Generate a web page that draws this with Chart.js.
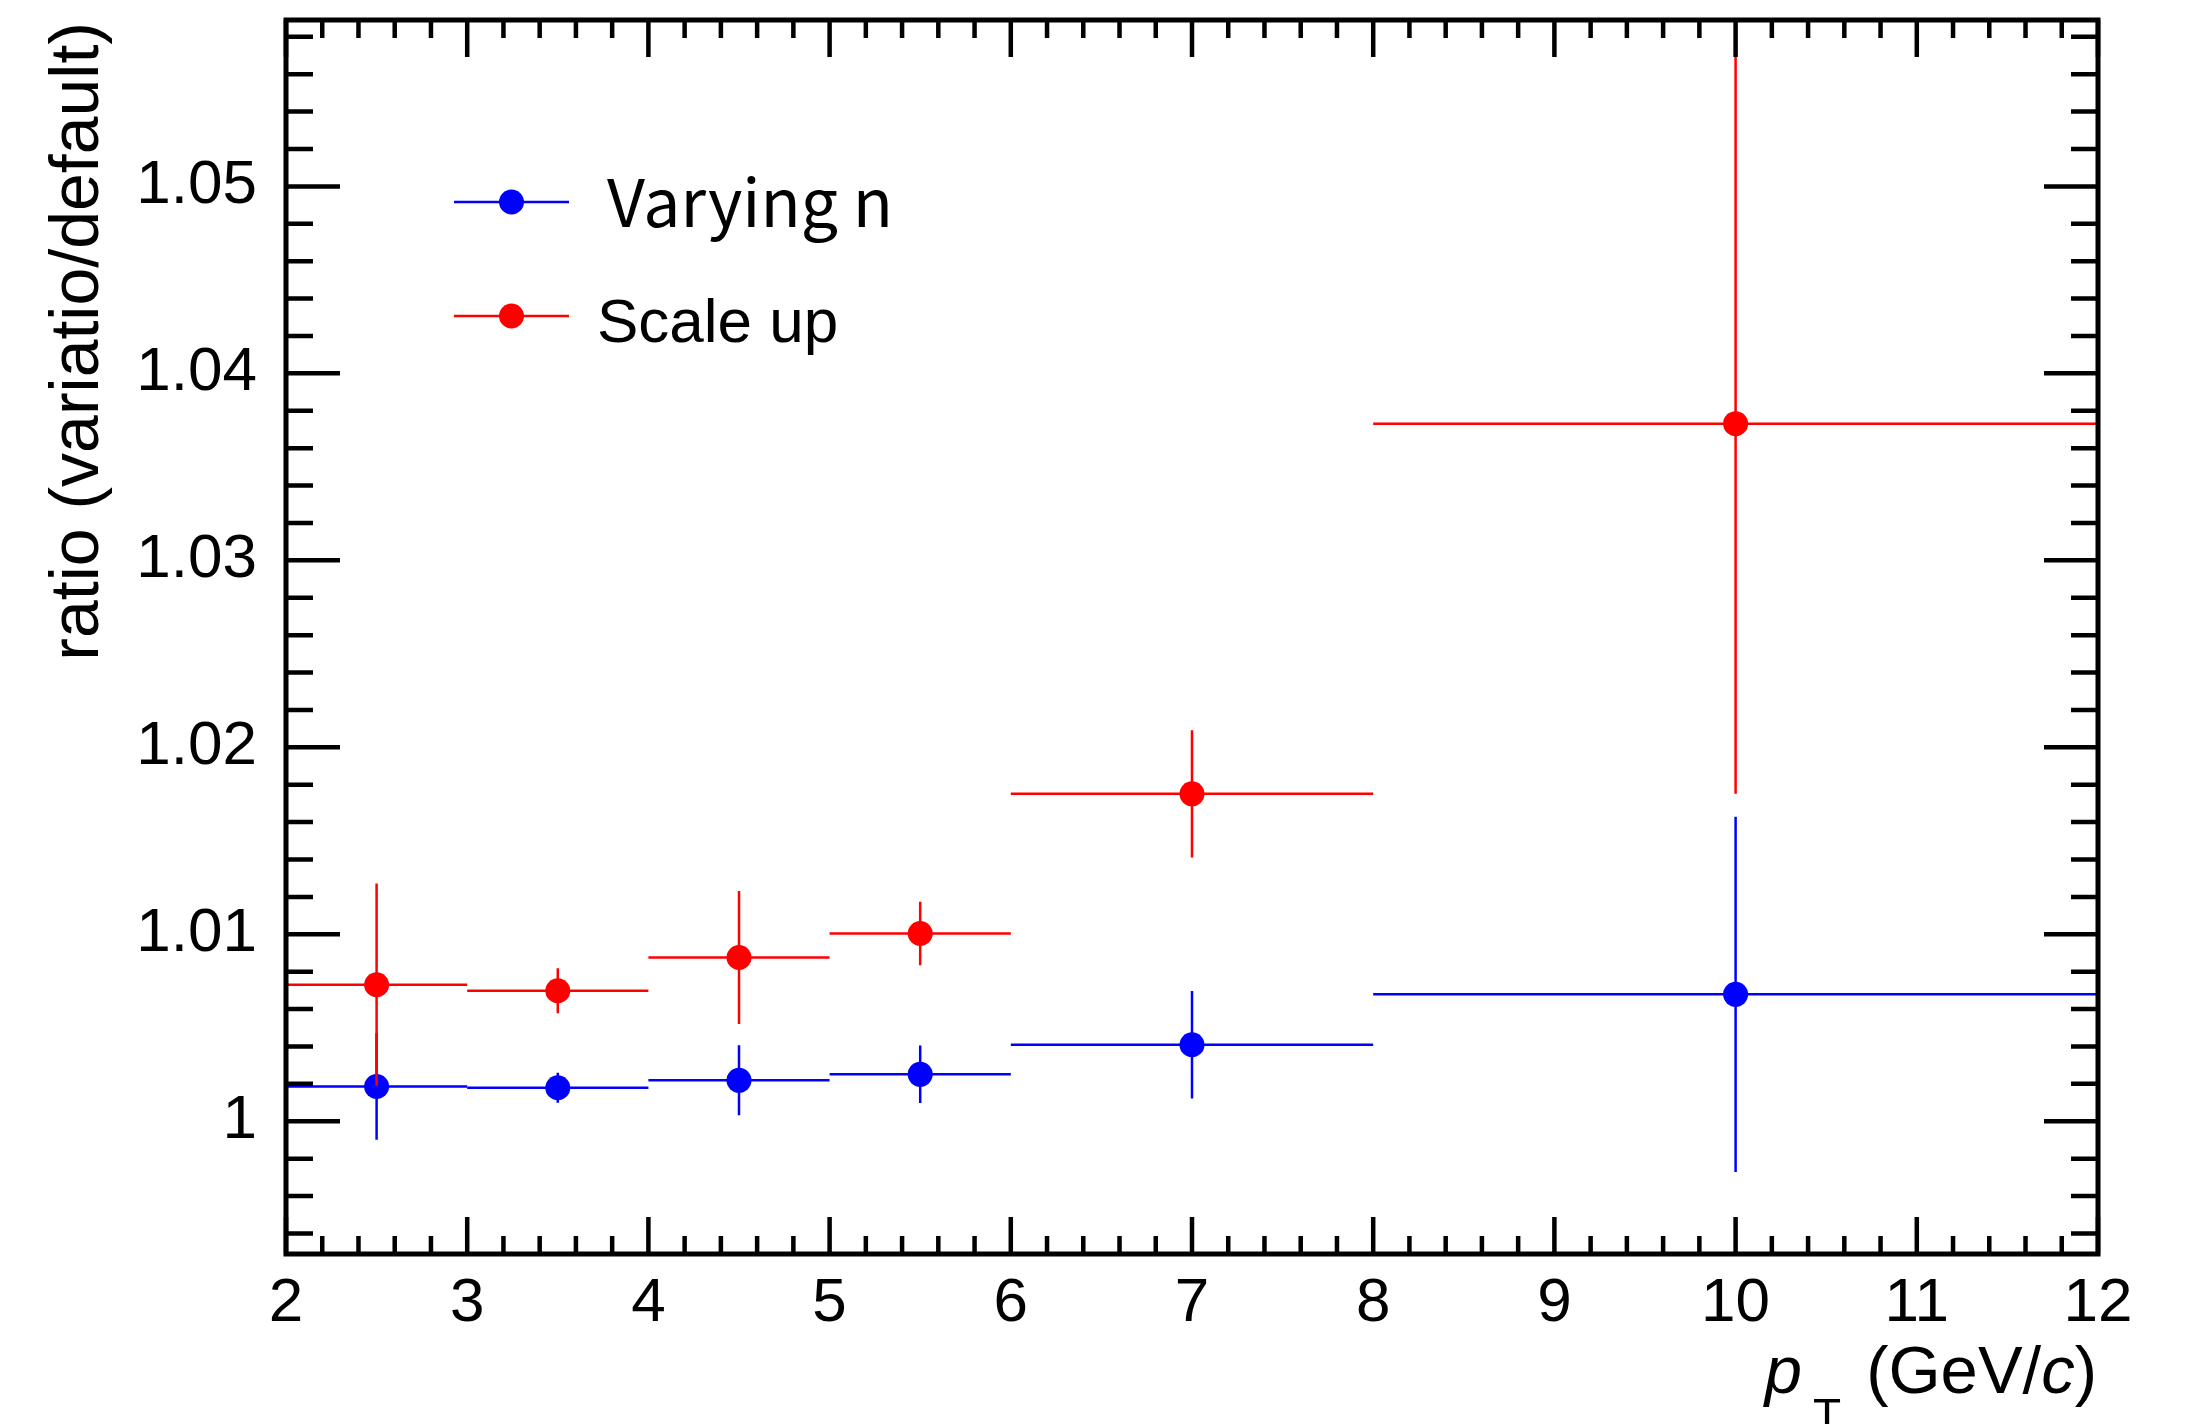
<!DOCTYPE html>
<html>
<head>
<meta charset="utf-8">
<script src="https://cdn.jsdelivr.net/npm/chart.js@4.4.1/dist/chart.umd.min.js"></script>
<style>
  html, body { margin: 0; padding: 0; background: #fff; }
  canvas { display: block; }
</style>
</head>
<body>
<canvas id="ratioChart" width="2192" height="1424"></canvas>
<script>
// ---- data ----
const binLow    = [2, 3, 4, 5, 6, 8];
const binHigh   = [3, 4, 5, 6, 8, 12];
const binCenter = [2.5, 3.5, 4.5, 5.5, 7, 10];

const varyingN    = [1.00186, 1.00179, 1.00219, 1.00251, 1.00409, 1.00679];
const varyingNErr = [0.00285, 0.00080, 0.00187, 0.00154, 0.00287, 0.00950];
const scaleUp     = [1.00730, 1.00698, 1.00876, 1.01004, 1.01751, 1.03731];
const scaleUpErr  = [0.00542, 0.00120, 0.00356, 0.00170, 0.00340, 0.01980];

const xTicks      = [2, 3, 4, 5, 6, 7, 8, 9, 10, 11, 12];
const xTickLabels = ['2', '3', '4', '5', '6', '7', '8', '9', '10', '11', '12'];
const yTicks      = [1, 1.01, 1.02, 1.03, 1.04, 1.05];
const yTickLabels = ['1', '1.01', '1.02', '1.03', '1.04', '1.05'];

const X_MIN = 2, X_MAX = 12, Y_MIN = 0.9929, Y_MAX = 1.0589;
const X_MINOR = 0.2, Y_MINOR = 0.002;   // 5 minor divisions per major

const FONT = '"Liberation Sans", Arial, Helvetica, sans-serif';

const toPoints = (xs, ys) => xs.map((x, i) => ({ x, y: ys[i] }));

// horizontal bin-width bar + vertical error bar, drawn just before each dataset's markers
const errorBars = {
  id: 'errorBars',
  beforeDatasetDraw(chart, args) {
    const ds = chart.data.datasets[args.index];
    const sx = chart.scales.x, sy = chart.scales.y;
    const ctx = chart.ctx;
    ctx.save();
    ctx.strokeStyle = ds.borderColor;
    ctx.lineWidth = 2.5;
    ds.data.forEach((p, i) => {
      const px = sx.getPixelForValue(p.x), py = sy.getPixelForValue(p.y);
      ctx.beginPath();
      ctx.moveTo(sx.getPixelForValue(ds.xLow[i]), py);
      ctx.lineTo(sx.getPixelForValue(ds.xHigh[i]), py);
      ctx.moveTo(px, sy.getPixelForValue(p.y - ds.yErr[i]));
      ctx.lineTo(px, sy.getPixelForValue(p.y + ds.yErr[i]));
      ctx.stroke();
    });
    ctx.restore();
  }
};

// ROOT-style frame with inward ticks on all four sides
const frame = {
  id: 'frame',
  afterDatasetsDraw(chart) {
    const { ctx, chartArea: a } = chart;
    const sx = chart.scales.x, sy = chart.scales.y;
    ctx.save();
    ctx.strokeStyle = '#000';
    ctx.lineWidth = 4.5;
    ctx.beginPath();
    for (let k = Math.ceil(X_MIN / X_MINOR - 1e-6); k * X_MINOR <= X_MAX + 1e-6; k++) {
      const px = sx.getPixelForValue(k * X_MINOR);
      const len = k % 5 === 0 ? 37 : 18;
      ctx.moveTo(px, a.bottom); ctx.lineTo(px, a.bottom - len);
      ctx.moveTo(px, a.top);    ctx.lineTo(px, a.top + len);
    }
    for (let k = Math.ceil(Y_MIN / Y_MINOR - 1e-6); k * Y_MINOR <= Y_MAX + 1e-6; k++) {
      const py = sy.getPixelForValue(k * Y_MINOR);
      const len = k % 5 === 0 ? 54 : 27;
      ctx.moveTo(a.left, py);  ctx.lineTo(a.left + len, py);
      ctx.moveTo(a.right, py); ctx.lineTo(a.right - len, py);
    }
    ctx.stroke();
    ctx.lineWidth = 5;
    ctx.strokeRect(a.left, a.top, a.right - a.left, a.bottom - a.top);
    ctx.restore();
  }
};

// legend: line + marker + text, each entry with its own font
const legendBox = {
  id: 'legendBox',
  afterDraw(chart) {
    const ctx = chart.ctx;
    const entries = [
      { ds: 0, y: 202, textX: 607, base: 227, font: '66px "Noto Sans CJK JP", "Noto Sans", sans-serif' },
      { ds: 1, y: 316, textX: 597, base: 342, font: '62px ' + FONT }
    ];
    ctx.save();
    entries.forEach(e => {
      const ds = chart.data.datasets[e.ds];
      ctx.strokeStyle = ds.borderColor;
      ctx.fillStyle = ds.backgroundColor;
      ctx.lineWidth = 2.5;
      ctx.beginPath(); ctx.moveTo(454, e.y); ctx.lineTo(569, e.y); ctx.stroke();
      ctx.beginPath(); ctx.arc(511.5, e.y, 12.5, 0, Math.PI * 2); ctx.fill();
      ctx.fillStyle = '#000';
      ctx.font = e.font;
      ctx.textAlign = 'left';
      ctx.textBaseline = 'alphabetic';
      ctx.fillText(ds.label, e.textX, e.base);
    });
    ctx.restore();
  }
};

// axis titles (mixed italic / subscript on x)
const axisTitles = {
  id: 'axisTitles',
  afterDraw(chart) {
    const ctx = chart.ctx;
    ctx.save();
    ctx.fillStyle = '#000';
    ctx.textBaseline = 'alphabetic';

    // y title, rotated, ending at the top of the frame
    ctx.font = '68px ' + FONT;
    ctx.translate(98, 22);
    ctx.rotate(-Math.PI / 2);
    ctx.textAlign = 'right';
    ctx.fillText('ratio (variatio/default)', 0, 0);
    ctx.setTransform(1, 0, 0, 1, 0, 0);

    // x title: p_T (GeV/c), right aligned to the frame
    const base = 1393, right = 2097;
    const up = '67px ' + FONT, it = 'italic 67px ' + FONT, sub = '46px ' + FONT;
    ctx.textAlign = 'left';
    ctx.font = up;  const wParen = ctx.measureText(')').width, wOpen = ctx.measureText('(GeV/').width;
    ctx.font = it;  const wc = ctx.measureText('c').width, wp = ctx.measureText('p').width;
    ctx.font = sub; const wT = ctx.measureText('T').width;
    let x = right - wParen;
    ctx.font = up; ctx.fillText(')', x, base);
    x -= wc;    ctx.font = it; ctx.fillText('c', x, base);
    x -= wOpen; ctx.font = up; ctx.fillText('(GeV/', x, base);
    x -= 25 + wT; ctx.font = sub; ctx.fillText('T', x, base + 38);
    x -= 11 + wp; ctx.font = it; ctx.fillText('p', x, base);
    ctx.restore();
  }
};

// pin the frame exactly: no extra label overhang padding from Chart.js
const noPad = (s) => { s.paddingTop = 0; s.paddingBottom = 0; s.paddingLeft = 0; s.paddingRight = 0; };

new Chart(document.getElementById('ratioChart'), {
  type: 'scatter',
  data: {
    datasets: [
      {
        label: 'Varying n',
        data: toPoints(binCenter, varyingN),
        xLow: binLow, xHigh: binHigh, yErr: varyingNErr,
        backgroundColor: '#0000ff', borderColor: '#0000ff',
        pointRadius: 12.5, pointBorderWidth: 0, pointHoverRadius: 12.5,
        order: 1
      },
      {
        label: 'Scale up',
        data: toPoints(binCenter, scaleUp),
        xLow: binLow, xHigh: binHigh, yErr: scaleUpErr,
        backgroundColor: '#ff0000', borderColor: '#ff0000',
        pointRadius: 12.5, pointBorderWidth: 0, pointHoverRadius: 12.5,
        order: 0
      }
    ]
  },
  options: {
    responsive: false,
    animation: false,
    devicePixelRatio: 1,
    events: [],
    layout: { padding: { left: 0, top: 20, right: 94, bottom: 0 } },
    plugins: { legend: { display: false }, tooltip: { enabled: false } },
    scales: {
      x: {
        type: 'linear', min: X_MIN, max: X_MAX,
        grid: { display: false, drawTicks: false },
        border: { display: false },
        afterBuildTicks: (s) => { s.ticks = xTicks.map(v => ({ value: v })); },
        afterFit: (s) => { s.height = 170; noPad(s); },
        ticks: {
          padding: 13, color: '#000', autoSkip: false, maxRotation: 0,
          font: { family: FONT, size: 62, lineHeight: 1.2 },
          callback: (v, i) => xTickLabels[i]
        }
      },
      y: {
        type: 'linear', min: Y_MIN, max: Y_MAX,
        grid: { display: false, drawTicks: false },
        border: { display: false },
        afterBuildTicks: (s) => { s.ticks = yTicks.map(v => ({ value: v })); },
        afterFit: (s) => { s.width = 286; noPad(s); },
        ticks: {
          padding: 29, color: '#000', autoSkip: false,
          font: { family: FONT, size: 62, lineHeight: 1.2 },
          callback: (v, i) => yTickLabels[i]
        }
      }
    }
  },
  plugins: [errorBars, frame, legendBox, axisTitles]
});
</script>
</body>
</html>
